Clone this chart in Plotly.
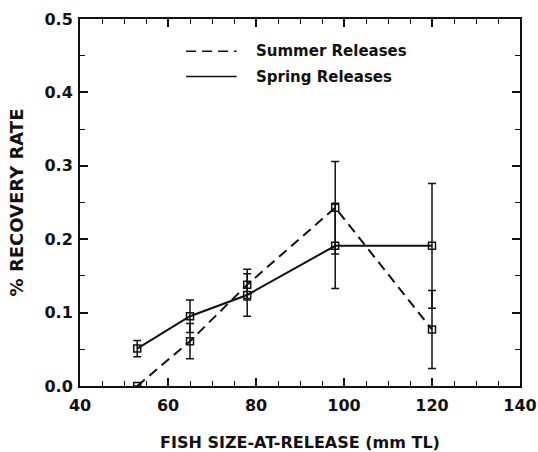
import plotly.graph_objects as go

# Data
size_summer = [53, 65, 78, 98, 120]
rate_summer = [0.0, 0.061, 0.138, 0.243, 0.077]
err_summer = [0.0, 0.024, 0.021, 0.063, 0.053]

size_spring = [53, 65, 78, 98, 120]
rate_spring = [0.051, 0.095, 0.124, 0.191, 0.191]
err_spring = [0.011, 0.022, 0.029, 0.058, 0.085]

legend_labels = ["Summer Releases", "Spring Releases"]

FONT = "DejaVu Sans"
BLACK = "#111111"

fig = go.Figure()

fig.add_trace(go.Scatter(
    x=size_spring, y=rate_spring, mode="lines+markers", name=legend_labels[1],
    line=dict(color=BLACK, width=2),
    marker=dict(symbol="square-open", size=7, color=BLACK, line=dict(width=1.5)),
    error_y=dict(type="data", array=err_spring, visible=True, color=BLACK,
                 thickness=1.5, width=4),
    showlegend=False,
))
fig.add_trace(go.Scatter(
    x=size_summer, y=rate_summer, mode="lines+markers", name=legend_labels[0],
    line=dict(color=BLACK, width=2, dash="10px,6px"),
    marker=dict(symbol="square-open", size=7, color=BLACK, line=dict(width=1.5)),
    error_y=dict(type="data", array=err_summer, visible=True, color=BLACK,
                 thickness=1.5, width=4),
    showlegend=False,
))

# Manual legend (lines + text) inside the plot
leg_y = [0.456, 0.4215]
leg_dash = ["10px,6px", "solid"]
for lab, ly, dsh in zip(legend_labels, leg_y, leg_dash):
    fig.add_shape(type="line", xref="x", yref="y", x0=64.1, x1=75.6, y0=ly, y1=ly,
                  line=dict(color=BLACK, width=1.5, dash=dsh))
    fig.add_annotation(x=79.6, y=ly, xref="x", yref="y", text=lab, showarrow=False,
                       xanchor="left", yanchor="middle",
                       font=dict(family=FONT, size=15, color=BLACK, weight="bold"))

axis_common = dict(
    showline=True, linecolor=BLACK, linewidth=2, mirror="allticks",
    ticks="inside", ticklen=8, tickwidth=1.5, tickcolor=BLACK,
    showgrid=False, zeroline=False, automargin=False,
    tickfont=dict(family=FONT, size=16, color=BLACK, weight="bold"),
)

fig.update_xaxes(
    range=[40, 140], dtick=20, tick0=40, ticklabelstandoff=4,
    minor=dict(ticks="inside", dtick=5, ticklen=5, tickwidth=1.2, tickcolor=BLACK),
    title=dict(text="FISH SIZE-AT-RELEASE (mm TL)", standoff=24,
               font=dict(family=FONT, size=16, color=BLACK, weight="bold")),
    **axis_common,
)
fig.update_yaxes(
    range=[0, 0.5], dtick=0.1, tickformat=".1f", ticklabelstandoff=2,
    minor=dict(ticks="inside", dtick=0.05, ticklen=5, tickwidth=1.2, tickcolor=BLACK),
    title=dict(text="% RECOVERY RATE", standoff=16,
               font=dict(family=FONT, size=18, color=BLACK, weight="bold")),
    **axis_common,
)

fig.update_layout(
    width=538, height=452,
    margin=dict(l=80, r=18, t=19, b=66),
    paper_bgcolor="white", plot_bgcolor="white",
    showlegend=False,
)

fig.write_html("out.html", config={"displayModeBar": False},
               post_script="document.body.style.margin='0';")
